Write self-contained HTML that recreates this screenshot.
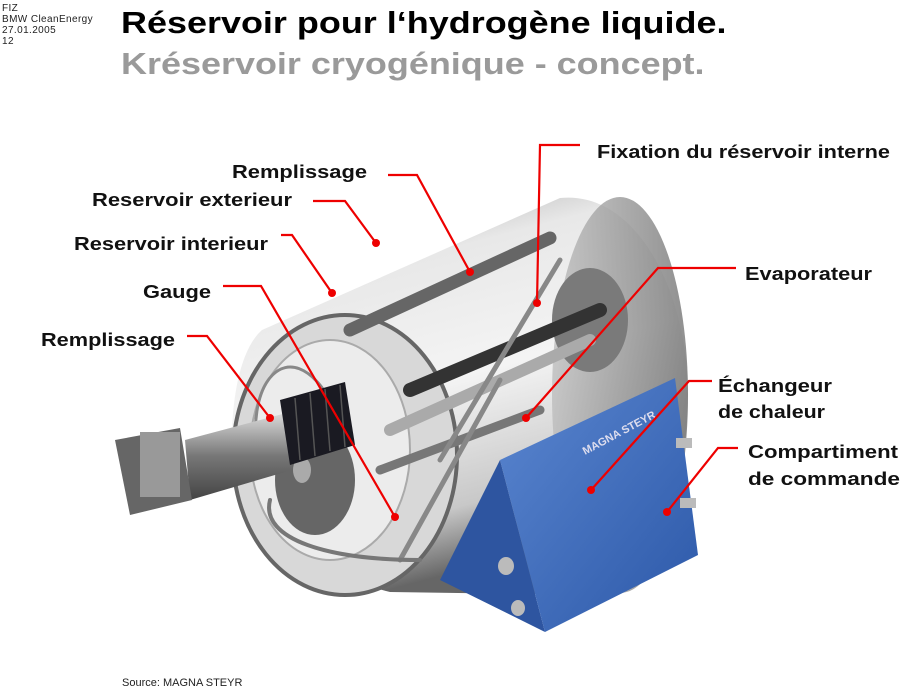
<!DOCTYPE html>
<html><head><meta charset="utf-8"><style>
body{margin:0;background:#fff;}
.w{position:relative;width:918px;height:698px;overflow:hidden;font-family:"Liberation Sans",sans-serif;}
.sm{position:absolute;left:2px;top:3px;font-size:10px;line-height:11px;color:#222;letter-spacing:0.4px;}
.t1{position:absolute;left:121px;top:5px;font-size:31px;font-weight:bold;color:#000;white-space:nowrap;transform:scaleX(1.16);transform-origin:0 0;}
.t2{position:absolute;left:121px;top:46px;font-size:31px;font-weight:bold;color:#9a9a9a;white-space:nowrap;transform:scaleX(1.16);transform-origin:0 0;}
.src{position:absolute;left:122px;top:677px;font-size:11px;color:#222;}
</style></head><body><div class="w">
<div class="sm">FIZ<br>BMW CleanEnergy<br>27.01.2005<br>12</div>
<div class="t1">Réservoir pour l‘hydrogène liquide.</div>
<div class="t2">Kréservoir cryogénique - concept.</div>
<svg width="918" height="698" style="position:absolute;left:0;top:0">
<defs>
<linearGradient id="cyl" x1="0" y1="0" x2="0.3" y2="1">
<stop offset="0" stop-color="#9a9a9a"/><stop offset="0.25" stop-color="#e8e8e8"/><stop offset="0.55" stop-color="#f4f4f4"/><stop offset="0.85" stop-color="#c8c8c8"/><stop offset="1" stop-color="#666"/></linearGradient>
<linearGradient id="cap" x1="0" y1="0" x2="1" y2="0"><stop offset="0" stop-color="#bbb"/><stop offset="1" stop-color="#6a6a6a"/></linearGradient>
<linearGradient id="blue" x1="0" y1="0" x2="1" y2="1"><stop offset="0" stop-color="#5a86d0"/><stop offset="1" stop-color="#2c58a8"/></linearGradient>
<linearGradient id="shaft" x1="0" y1="0" x2="0" y2="1"><stop offset="0" stop-color="#ddd"/><stop offset="0.5" stop-color="#777"/><stop offset="1" stop-color="#444"/></linearGradient>
</defs>
<path d="M262 330 L560 198 C640 190 690 300 688 400 C686 500 650 590 600 595 L390 592 C300 570 228 500 232 430 C234 380 245 345 262 330 Z" fill="url(#cyl)"/>
<ellipse cx="620" cy="395" rx="68" ry="198" fill="url(#cap)" opacity="0.75"/>
<ellipse cx="590" cy="320" rx="38" ry="52" fill="#7a7a7a"/>
<ellipse cx="345" cy="455" rx="112" ry="140" fill="#d8d8d8" stroke="#666" stroke-width="4"/>
<ellipse cx="330" cy="450" rx="80" ry="110" fill="#ececec" stroke="#aaa" stroke-width="2"/>
<g stroke-linecap="round">
<line x1="350" y1="330" x2="550" y2="238" stroke="#666" stroke-width="13"/>
<line x1="410" y1="390" x2="600" y2="310" stroke="#333" stroke-width="14"/>
<line x1="390" y1="430" x2="590" y2="340" stroke="#aaa" stroke-width="12"/>
<line x1="380" y1="470" x2="540" y2="410" stroke="#777" stroke-width="9"/>
<line x1="440" y1="460" x2="560" y2="260" stroke="#888" stroke-width="5"/>
<line x1="400" y1="560" x2="500" y2="380" stroke="#888" stroke-width="5"/>
<path d="M260 470 C240 380 290 330 330 400" stroke="#888" stroke-width="3" fill="none"/>
<path d="M270 500 C260 540 330 560 420 560" stroke="#777" stroke-width="4" fill="none"/>
</g>
<ellipse cx="315" cy="480" rx="40" ry="55" fill="#666"/>
<ellipse cx="302" cy="470" rx="9" ry="13" fill="#aaa"/>
<path d="M185 440 L290 412 L292 470 L190 500 Z" fill="url(#shaft)"/>
<path d="M280 400 L345 382 L355 445 L290 465 Z" fill="#1a1a22"/>
<g stroke="#555" stroke-width="1.5"><line x1="295" y1="398" x2="300" y2="460"/><line x1="310" y1="393" x2="315" y2="456"/><line x1="325" y1="389" x2="330" y2="451"/><line x1="340" y1="385" x2="345" y2="447"/></g>
<path d="M115 440 L180 428 L192 500 L130 515 Z" fill="#666"/>
<rect x="140" y="432" width="40" height="65" fill="#999"/>
<path d="M500 460 L440 580 L545 632 Z" fill="#2e55a0"/>
<path d="M500 460 L675 378 L698 555 L545 632 Z" fill="url(#blue)"/>
<text x="585" y="455" font-size="11" font-weight="bold" fill="#dde" transform="rotate(-28 585 455)" font-family="Liberation Sans,sans-serif">MAGNA STEYR</text>
<ellipse cx="506" cy="566" rx="8" ry="9" fill="#bbb"/><ellipse cx="518" cy="608" rx="7" ry="8" fill="#bbb"/>
<rect x="676" y="438" width="16" height="10" fill="#bbb"/><rect x="680" y="498" width="16" height="10" fill="#bbb"/>
<g stroke="#e00" stroke-width="2.2" fill="none">
<polyline points="388,175 417,175 470,272"/>
<polyline points="313,201 345,201 376,243"/>
<polyline points="281,235 292,235 332,293"/>
<polyline points="223,286 261,286 395,517"/>
<polyline points="187,336 207,336 270,418"/>
<polyline points="580,145 540,145 537,303"/>
<polyline points="736,268 658,268 526,418"/>
<polyline points="712,381 689,381 591,490"/>
<polyline points="738,448 718,448 667,512"/>
</g>
<g fill="#e00">
<circle cx="470" cy="272" r="4"/><circle cx="376" cy="243" r="4"/><circle cx="332" cy="293" r="4"/><circle cx="395" cy="517" r="4"/><circle cx="270" cy="418" r="4"/><circle cx="537" cy="303" r="4"/><circle cx="526" cy="418" r="4"/><circle cx="591" cy="490" r="4"/><circle cx="667" cy="512" r="4"/>
</g>
<g font-family="Liberation Sans,sans-serif" font-weight="bold" font-size="18" fill="#111">
<text x="232" y="178" textLength="135" lengthAdjust="spacingAndGlyphs">Remplissage</text>
<text x="92" y="206" textLength="200" lengthAdjust="spacingAndGlyphs">Reservoir exterieur</text>
<text x="74" y="250" textLength="194" lengthAdjust="spacingAndGlyphs">Reservoir interieur</text>
<text x="143" y="298" textLength="68" lengthAdjust="spacingAndGlyphs">Gauge</text>
<text x="41" y="346" textLength="134" lengthAdjust="spacingAndGlyphs">Remplissage</text>
<text x="597" y="158" textLength="293" lengthAdjust="spacingAndGlyphs">Fixation du réservoir interne</text>
<text x="745" y="280" textLength="127" lengthAdjust="spacingAndGlyphs">Evaporateur</text>
<text x="718" y="392" textLength="114" lengthAdjust="spacingAndGlyphs">Échangeur</text>
<text x="718" y="418" textLength="107" lengthAdjust="spacingAndGlyphs">de chaleur</text>
<text x="748" y="458" textLength="150" lengthAdjust="spacingAndGlyphs">Compartiment</text>
<text x="748" y="485" textLength="152" lengthAdjust="spacingAndGlyphs">de commande</text>
</g>
</svg>
<div class="src">Source: MAGNA STEYR</div>
</div></body></html>
